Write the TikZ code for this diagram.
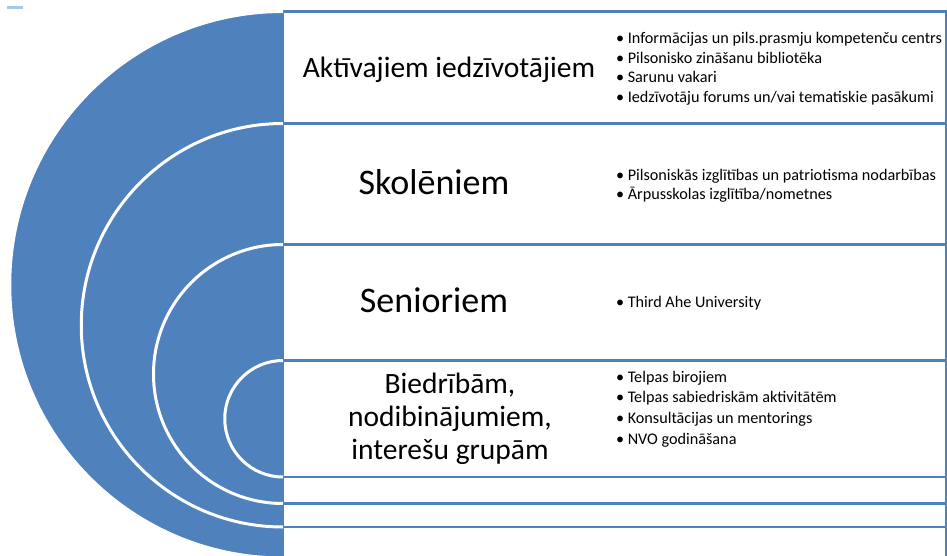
\documentclass[tikz,border=0pt]{standalone}
\usepackage{fontspec}
\setmainfont{Carlito}
\definecolor{ringblue}{HTML}{4F81BD}
\definecolor{dashblue}{HTML}{A7C7EA}

\begin{document}
\begin{tikzpicture}[x=1pt, y=-1pt]

\tikzstyle{every node}=[inner sep=0pt, text=black]
\tikzstyle{panel}=[fill=white, draw=ringblue, line width=2.6pt]
\tikzstyle{ring}=[draw=white, line width=3pt]
\tikzstyle{title}=[font=\fontsize{29.5}{33}\selectfont, align=center]
\tikzstyle{bigtitle}=[font=\fontsize{36}{40}\selectfont]
\tikzstyle{item}=[font=\fontsize{16.2}{19.6}\selectfont, anchor=base west]

\clip (0,0) rectangle (947,556);
\fill[white] (0,0) rectangle (947,556);
\fill[dashblue] (7,6) rectangle (23,9);

\draw[panel] (283,11.5) rectangle (946,560);
\draw[panel] (283,123.5) rectangle (946,527);
\draw[panel] (283,244.5) rectangle (946,503.5);
\draw[panel] (283,360.5) rectangle (946,477);

\foreach \top/\r in {11.5/273.25, 123.5/201.75, 244.5/129.5, 360.5/58.25} {
  \fill[ringblue] (283,\top) arc[start angle=270, end angle=90, radius=\r] -- cycle;
  \draw[ring] (283,\top) arc[start angle=270, end angle=90, radius=\r];
}

\node[title] (aktivie) at (449,70) {Aktīvajiem iedzīvotājiem};
\node[bigtitle] (skoleni) at (434,182) {Skolēniem};
\node[bigtitle] (seniori) at (434,300) {Senioriem};
\node[title] (biedribas) at (450,419) {Biedrībām,\\nodibinājumiem,\\interešu grupām};

\foreach \txt [count=\k] in {Informācijas un pils.prasmju kompetenču centrs,
    Pilsonisko zināšanu bibliotēka, Sarunu vakari,
    Iedzīvotāju forums un/vai tematiskie pasākumi}
  \node[item] (aktivie-\k) at (616,{43.5+19.7*(\k-1)}) {\textbullet\hspace{3.5pt}\txt};

\foreach \txt [count=\k] in {Pilsoniskās izglītības un patriotisma nodarbības,
    Ārpusskolas izglītība/nometnes}
  \node[item] (skoleni-\k) at (616,{180.5+19.5*(\k-1)}) {\textbullet\hspace{3.5pt}\txt};

\node[item] (seniori-1) at (616,307) {\textbullet\hspace{3.5pt}Third Ahe University};

\foreach \txt [count=\k] in {Telpas birojiem, Telpas sabiedriskām aktivitātēm,
    Konsultācijas un mentorings, NVO godināšana}
  \node[item] (biedribas-\k) at (616,{382+20.8*(\k-1)}) {\textbullet\hspace{3.5pt}\txt};

\end{tikzpicture}
\end{document}
